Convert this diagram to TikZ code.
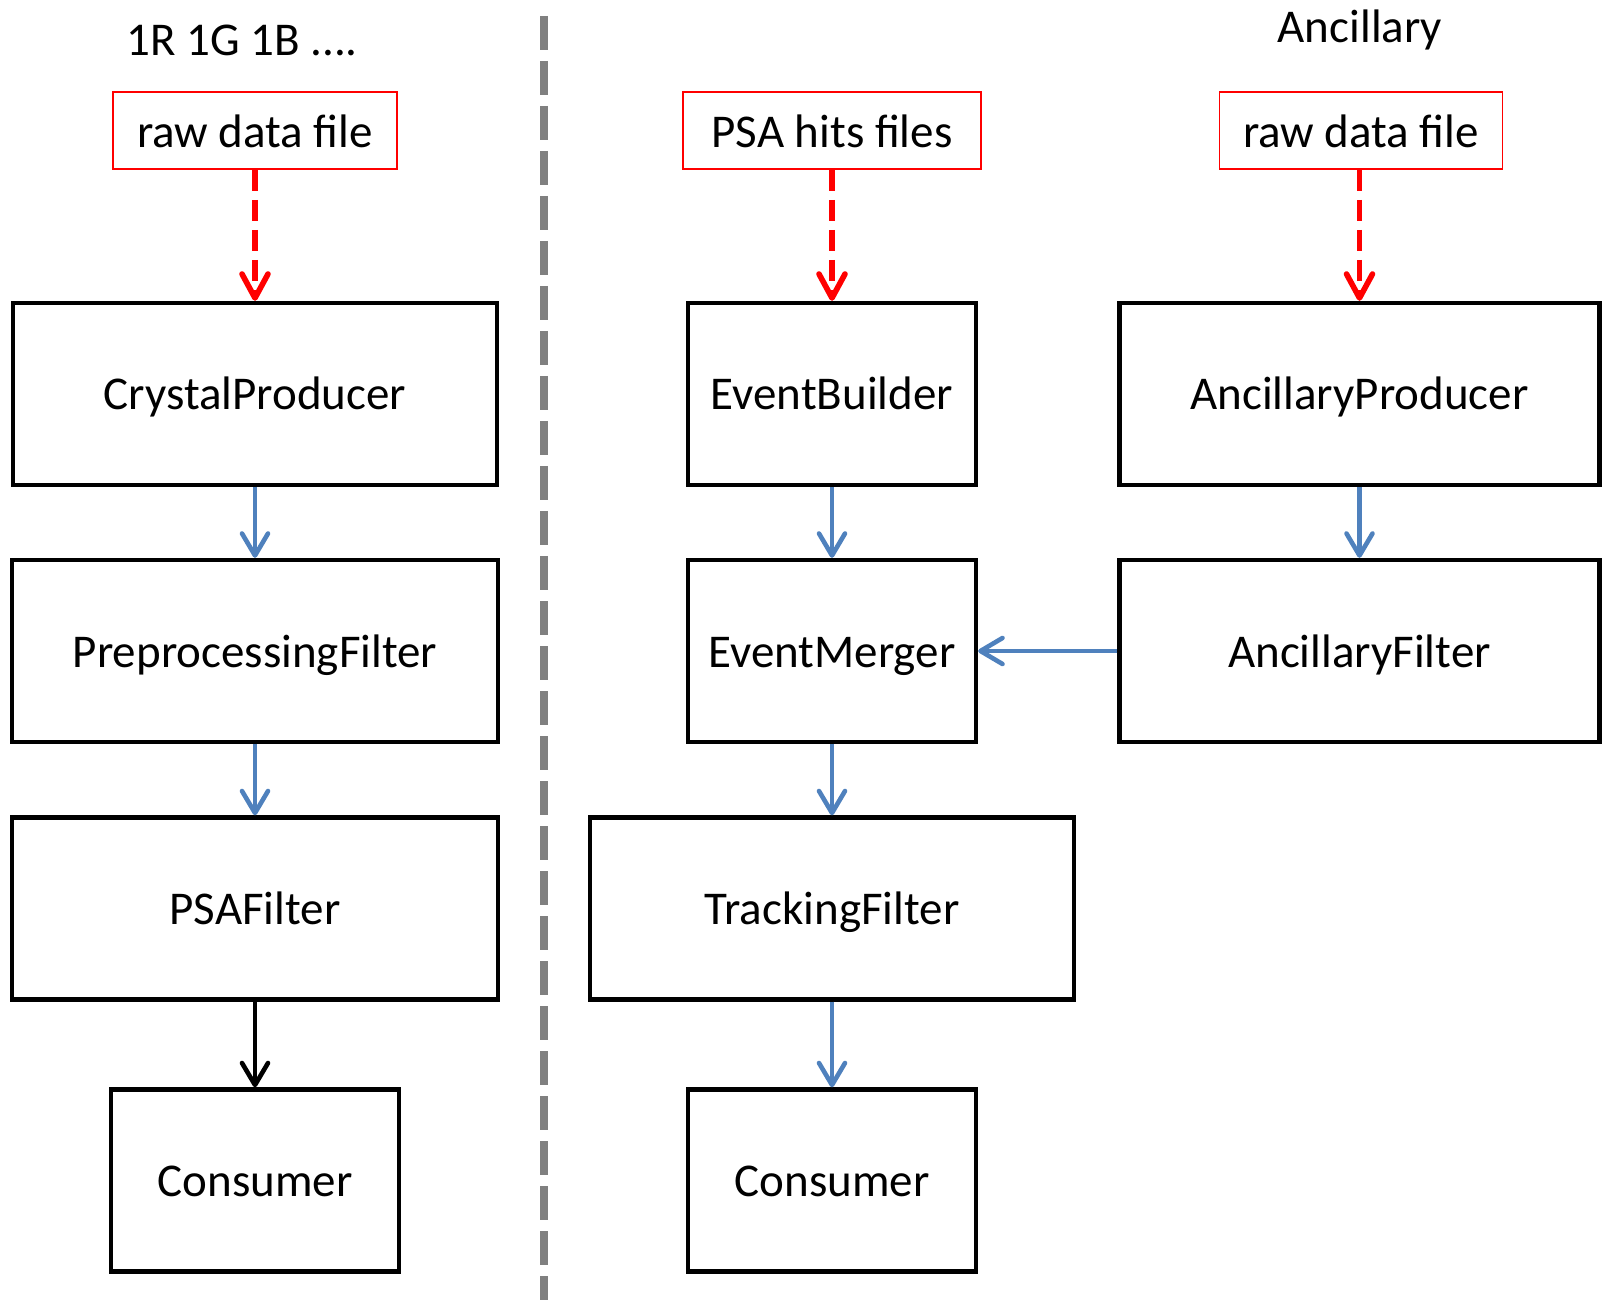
\documentclass[tikz,border=0pt]{standalone}
\usepackage{fontspec}
\setmainfont{Carlito}
\usepackage{xcolor}
\usepackage{tikz}
\usetikzlibrary{positioning, arrows.meta}

\definecolor{flowblue}{HTML}{4F81BD}
\definecolor{splitgray}{HTML}{808080}

\begin{document}
\begin{tikzpicture}[x=0.5pt, y=-0.5pt,
    every node/.style={font=\fontsize{23.5pt}{28pt}\selectfont, inner sep=0pt},
    stagebox/.style={draw=black, line width=2.2pt, minimum height=91pt, text height=20pt, text depth=4pt},
    filebox/.style={draw=red, line width=0.9pt, minimum height=38.5pt, text height=20.5pt, text depth=3pt},
    flowarrow/.style={draw=flowblue, line width=2.3pt, -{Straight Barb[round, length=11pt, width=13pt]}},
    readarrow/.style={draw=red, line width=2.8pt, dash pattern=on 10.5pt off 4.5pt, -{Straight Barb[round, length=12pt, width=13pt]}}]
        \useasboundingbox (0,0) rectangle (1603,1300);

        % Column headers
        \node[anchor=base] (hdrleft) at (242,56) {1R 1G 1B ....};
        \node[anchor=base] (hdrancil) at (1360,43) {Ancillary};

        % Separator
        \draw[splitgray, line width=4pt, dash pattern=on 17pt off 5.5pt] (544,16) -- (544,1300);

        % Input files
        \node[filebox, minimum width=142pt] (rawleft) at (255,130.5) {raw data file};
        \node[filebox, minimum width=149pt] (psahits) at (832,130.5) {PSA hits files};
        \node[filebox, minimum width=141.5pt] (rawancil) at (1361,130.5) {raw data file};

        % Crystal chain
        \node[stagebox, minimum width=242pt] (crystal) at (255,394) {CrystalProducer};
        \node[stagebox, minimum width=243pt] (preproc) at (255,651) {PreprocessingFilter};
        \node[stagebox, minimum width=243pt] (psafilt) at (255,908.5) {PSAFilter};
        \node[stagebox, minimum width=144pt] (consleft) at (255,1180.5) {Consumer};

        % Event chain
        \node[stagebox, minimum width=144pt] (evbuild) at (832,394) {EventBuilder};
        \node[stagebox, minimum width=144pt] (evmerge) at (832,651) {EventMerger};
        \node[stagebox, minimum width=242pt] (tracking) at (832,908.5) {TrackingFilter};
        \node[stagebox, minimum width=144pt] (consright) at (832,1180.5) {Consumer};

        % Ancillary chain
        \node[stagebox, minimum width=240pt] (ancprod) at (1359.5,394) {AncillaryProducer};
        \node[stagebox, minimum width=240pt] (ancfilt) at (1359.5,651) {AncillaryFilter};

        % Reading the files
        \draw[readarrow] (rawleft) -- (crystal);
        \draw[readarrow] (psahits) -- (evbuild);
        \draw[readarrow] (rawancil.south -| ancprod) -- (ancprod);

        % Data flow
        \draw[flowarrow] (crystal) -- (preproc);
        \draw[flowarrow] (preproc) -- (psafilt);
        \draw[line width=2.3pt, -{Straight Barb[round, length=11pt, width=13pt]}] (psafilt) -- (consleft);
        \draw[flowarrow] (evbuild) -- (evmerge);
        \draw[flowarrow] (evmerge) -- (tracking);
        \draw[flowarrow] (tracking) -- (consright);
        \draw[flowarrow] (ancprod) -- (ancfilt);
        \draw[flowarrow] (ancfilt) -- (evmerge);
      \end{tikzpicture}
\end{document}
